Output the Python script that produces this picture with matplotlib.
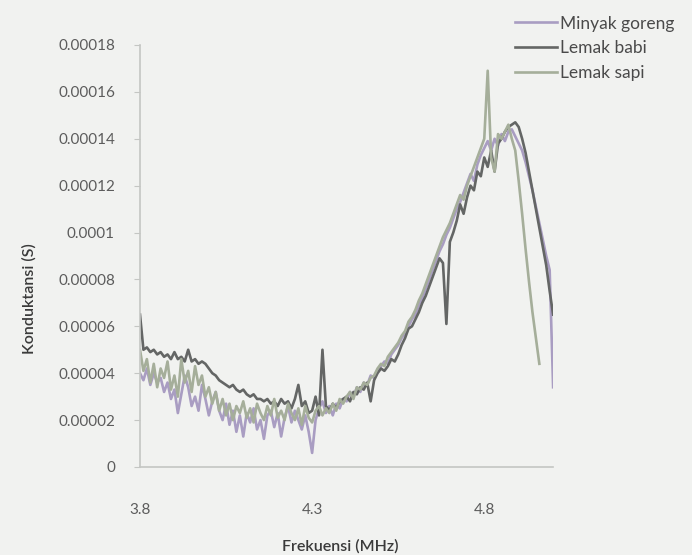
import matplotlib
matplotlib.use("Agg")
from matplotlib import pyplot as plt

# frequency sweep (MHz), 0.01 steps
freq = [round(3.80 + 0.01 * i, 2) for i in range(121)]

# conductance, units of 1e-5 S
minyak_goreng = [
    4.0, 3.7, 4.2, 3.5, 4.0, 3.6, 3.8, 3.2, 3.6, 2.9,
    3.3, 2.3, 3.1, 3.9, 3.4, 2.6, 3.0, 2.4, 3.5, 2.9,
    2.2, 2.8, 3.2, 2.4, 2.0, 2.7, 1.8, 2.4, 1.5, 2.2,
    1.3, 2.3, 1.9, 2.5, 1.6, 2.0, 1.2, 2.2, 2.4, 1.7,
    2.3, 1.3, 2.1, 2.6, 1.9, 2.4, 2.0, 1.6, 2.2, 1.5,
    0.6, 2.0, 2.5, 2.8, 2.3, 2.6, 2.2, 2.7, 2.5, 2.9,
    2.8, 3.2, 3.0, 3.4, 3.2, 3.6, 3.5, 3.9, 3.8, 4.1,
    4.3, 4.5, 4.4, 4.8, 5.0, 5.2, 5.5, 5.7, 6.0, 6.3,
    6.5, 6.9, 7.2, 7.6, 8.0, 8.4, 8.8, 9.2, 9.5, 9.9,
    10.2, 10.6, 11.0, 11.3, 11.7, 12.1, 12.5, 12.2, 12.9, 13.3,
    13.6, 13.9, 13.5, 14.0, 13.7, 14.2, 13.9, 14.3, 14.4, 14.1,
    13.8, 13.5, 13.0, 12.4, 11.8, 11.1, 10.4, 9.7, 9.0, 8.4,
    3.4,
]
lemak_babi = [
    6.5, 5.0, 5.1, 4.9, 5.0, 4.8, 4.9, 4.7, 4.8, 4.6,
    4.9, 4.6, 4.7, 4.5, 5.0, 4.5, 4.6, 4.4, 4.5, 4.4,
    4.2, 4.0, 3.9, 3.7, 3.6, 3.5, 3.4, 3.5, 3.3, 3.2,
    3.3, 3.1, 3.0, 3.1, 2.9, 2.9, 2.8, 2.9, 2.7, 2.8,
    2.6, 2.9, 2.7, 2.8, 2.5, 2.9, 3.5, 2.6, 2.8, 2.3,
    2.4, 3.0, 2.2, 5.0, 2.6, 2.4, 2.7, 2.5, 2.8, 2.9,
    3.0, 2.8, 3.2, 3.1, 3.4, 3.3, 3.6, 2.8, 3.7, 4.0,
    4.2, 4.1, 4.3, 4.6, 4.5, 4.8, 5.2, 5.5, 5.9, 6.0,
    6.3, 6.6, 7.0, 7.3, 7.7, 8.1, 8.5, 8.9, 8.7, 6.1,
    9.6, 10.0, 10.5, 11.2, 10.8, 11.5, 12.0, 11.8, 12.6, 12.4,
    13.2, 12.8, 13.5, 12.6, 13.8, 14.0, 14.3, 14.5, 14.6, 14.7,
    14.5, 14.0, 13.4, 12.6, 11.8, 11.0, 10.2, 9.4, 8.6, 7.5,
    6.5,
]
lemak_sapi = [
    5.0, 4.1, 4.6, 3.6, 4.4, 3.4, 4.2, 3.8, 4.5, 3.3,
    3.9, 3.0, 4.6, 3.6, 4.1, 3.2, 4.3, 3.5, 3.9, 3.0,
    3.4, 2.7, 3.2, 2.4, 2.9, 2.2, 2.7, 2.0, 2.6, 2.3,
    2.8, 2.1, 2.5, 1.9, 2.7, 2.3, 2.0, 2.6, 2.2, 2.9,
    2.1, 2.4, 2.0, 2.7, 2.3, 2.0, 2.5, 1.8, 2.6, 2.1,
    1.9, 2.4, 2.6, 2.2, 2.5, 2.3, 2.7, 2.4, 2.9, 2.7,
    3.0, 3.2, 2.9, 3.4, 3.3, 3.6, 3.5, 3.8, 3.9, 4.2,
    4.4, 4.3, 4.7, 4.9, 5.1, 5.3, 5.6, 5.8, 6.2, 6.4,
    6.7, 7.1, 7.4, 7.8, 8.2, 8.6, 9.0, 9.4, 9.8, 10.1,
    10.4, 10.8, 11.2, 11.6, 11.4, 12.0, 12.4, 12.8, 13.2, 13.6,
    14.0, 16.9, 13.2, 12.6, 14.2, 14.0, 14.3, 14.6, 14.0, 13.5,
    12.2, 10.8, 9.3, 7.9, 6.6, 5.5, 4.4,
]

y_ticks = [0, 0.00002, 0.00004, 0.00006, 0.00008, 0.0001,
           0.00012, 0.00014, 0.00016, 0.00018]
y_labels = ["0", "0.00002", "0.00004", "0.00006", "0.00008", "0.0001",
            "0.00012", "0.00014", "0.00016", "0.00018"]
x_ticks = [3.8, 4.3, 4.8]
x_labels = ["3.8", "4.3", "4.8"]

plt.rcParams["font.family"] = "Lato"

bg = "#f1f2f0"
fig = plt.figure(figsize=(6.92, 5.55), dpi=100, facecolor=bg)
ax = fig.add_axes([0.2023, 0.1586, 0.597, 0.7604])
ax.set_facecolor(bg)

scale = 1e-5
ax.plot(freq[:len(minyak_goreng)], [v * scale for v in minyak_goreng],
        color="#a99dc2", lw=1.9, label="Minyak goreng")
ax.plot(freq[:len(lemak_babi)], [v * scale for v in lemak_babi],
        color="#646665", lw=1.9, label="Lemak babi")
ax.plot(freq[:len(lemak_sapi)], [v * scale for v in lemak_sapi],
        color="#a5ae9a", lw=1.9, label="Lemak sapi")

ax.set_xlim(3.8, 5.0)
ax.set_ylim(0, 0.00018)
ax.set_yticks(y_ticks)
ax.set_yticklabels(y_labels)
ax.set_xticks(x_ticks)
ax.set_xticklabels(x_labels)

for s in ["top", "right"]:
    ax.spines[s].set_visible(False)
for s in ["left", "bottom"]:
    ax.spines[s].set_color("#c4c6c3")
    ax.spines[s].set_linewidth(1.2)

ax.tick_params(axis="y", length=4, color="#c4c6c3", labelsize=11,
               labelcolor="#5c5c5c", pad=14)
ax.tick_params(axis="x", length=0, labelsize=11, labelcolor="#5c5c5c", pad=26)

ax.set_ylabel("Konduktansi (S)", fontsize=11.5, color="#3a3a3a",
              fontweight="semibold")
ax.yaxis.set_label_coords(-0.25, 0.40)
ax.set_xlabel("Frekuensi (MHz)", fontsize=11.5, color="#3a3a3a",
              fontweight="semibold")
ax.xaxis.set_label_coords(0.485, -0.17)

ax.legend(loc="upper left", bbox_to_anchor=(0.744, 0.972),
          bbox_transform=fig.transFigure, frameon=False, fontsize=12.5,
          handlelength=2.4, handletextpad=0.2, labelspacing=0.5,
          borderpad=0, borderaxespad=0, labelcolor="#4a4a4a")

fig.savefig("out.png", dpi=100, facecolor=bg)
